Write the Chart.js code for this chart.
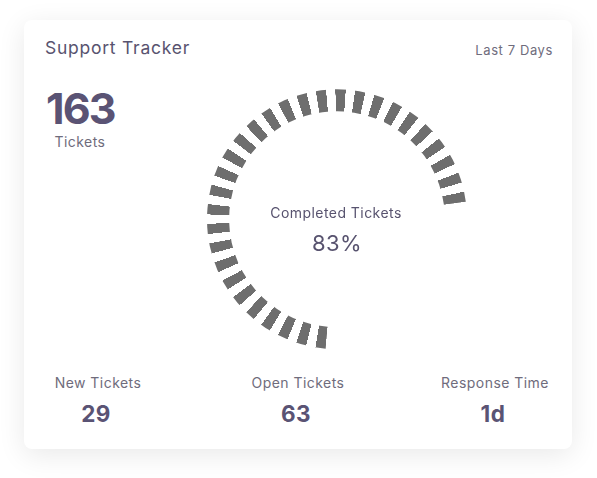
<!DOCTYPE html>
<html>
<head>
<meta charset="utf-8">
<script src="https://cdn.jsdelivr.net/npm/chart.js@4/dist/chart.umd.min.js"></script>
<style>
  html, body { margin: 0; padding: 0; background: #ffffff; }
  body { width: 597px; height: 478px; position: relative; overflow: hidden; font-family: Inter, "Open Sans", sans-serif; }
  .card { position: absolute; left: 24px; top: 20px; width: 548px; height: 429px; background: #fff; border-radius: 8px;
          box-shadow: 0 6px 28px rgba(0,0,0,0.09); }
  .t { position: absolute; white-space: nowrap; letter-spacing: 0.45px; }
  #chartWrap { position: absolute; left: 207px; top: 89px; width: 260px; height: 260px; }
  #c { display: block; width: 260px; height: 260px; }
</style>
</head>
<body>
<div class="card"></div>
<div class="t" id="title" style="left:45px; top:38px; font-size:17.5px; line-height:20px; color:#58536f; letter-spacing:0.75px;"></div>
<div class="t" id="period" style="right:44px; top:42px; font-size:13px; line-height:16px; color:#6f6c7c; letter-spacing:0.6px;"></div>
<div class="t" id="total" style="left:46px; top:85px; font-size:43px; line-height:46px; font-weight:700; color:#5a5374; letter-spacing:-1.8px;"></div>
<div class="t" id="totalLbl" style="left:40px; width:80px; text-align:center; top:133px; font-size:14px; line-height:18px; color:#6f6c7c;"></div>
<div id="chartWrap"><canvas id="c" width="260" height="260"></canvas></div>
<div class="t" id="centerLbl" style="left:236px; width:200px; text-align:center; top:204px; font-size:14px; line-height:18px; color:#58536f;"></div>
<div class="t" id="centerVal" style="left:237px; width:200px; text-align:center; top:230px; font-size:22px; line-height:26px; color:#58536f;"></div>
<div id="stats"></div>
<script>
// ---- data ----
const titleText = 'Support Tracker';
const periodText = 'Last 7 Days';
const totalTickets = 163;
const totalLabel = 'Tickets';
const gaugeLabel = 'Completed Tickets';
const gaugeCategories = ['Completed', 'Remaining'];
const gaugeValues = [83, 17];
const statLabels = ['New Tickets', 'Open Tickets', 'Response Time'];
const statValues = ['29', '63', '1d'];

// ---- text ----
document.getElementById('title').textContent = titleText;
document.getElementById('period').textContent = periodText;
document.getElementById('total').textContent = String(totalTickets);
document.getElementById('totalLbl').textContent = totalLabel;
document.getElementById('centerLbl').textContent = gaugeLabel;
document.getElementById('centerVal').textContent = gaugeValues[0] + '%';

const statCenters = [98, 298, 495];
const statsEl = document.getElementById('stats');
statLabels.forEach((lbl, i) => {
  const a = document.createElement('div');
  a.className = 't';
  a.style.cssText = `left:${statCenters[i]-80}px;width:160px;text-align:center;top:374px;font-size:14px;line-height:18px;color:#6f6c7c;letter-spacing:0.45px;`;
  a.textContent = lbl;
  statsEl.appendChild(a);
  const b = document.createElement('div');
  b.className = 't';
  b.style.cssText = `left:${statCenters[i]-80-2}px;width:160px;text-align:center;top:400px;font-size:22.5px;line-height:28px;font-weight:700;color:#5a5374;`;
  b.textContent = statValues[i];
  statsEl.appendChild(b);
});

// ---- dashed arc fill via conic gradient ----
const DASH_COLOR = '#6e6e6e';
const DASH_COUNT = 30;
const DASH_FRAC = 0.52;
const dashPlugin = {
  id: 'dashFill',
  beforeDatasetsDraw(chart) {
    const meta = chart.getDatasetMeta(0);
    const arc = meta.data[0];
    if (!arc || arc.x === undefined) return;
    const ctx = chart.ctx;
    const span = arc.endAngle - arc.startAngle;
    const p = span / (DASH_COUNT - 1 + DASH_FRAC);
    const g = ctx.createConicGradient(arc.startAngle, arc.x, arc.y);
    const TAU = Math.PI * 2;
    const eps = 0.00005;
    g.addColorStop(0, DASH_COLOR);
    for (let i = 0; i < DASH_COUNT; i++) {
      const a0 = (i * p) / TAU;
      const a1 = (i * p + DASH_FRAC * p) / TAU;
      if (i > 0) { g.addColorStop(Math.max(a0 - eps, 0), 'rgba(0,0,0,0)'); g.addColorStop(a0, DASH_COLOR); }
      g.addColorStop(a1, DASH_COLOR);
      g.addColorStop(Math.min(a1 + eps, 1), 'rgba(0,0,0,0)');
    }
    g.addColorStop(1, 'rgba(0,0,0,0)');
    arc.options.backgroundColor = g;
  }
};

new Chart(document.getElementById('c'), {
  type: 'doughnut',
  data: {
    labels: gaugeCategories,
    datasets: [{
      data: gaugeValues,
      backgroundColor: [DASH_COLOR, 'rgba(0,0,0,0)'],
      borderWidth: 0,
      hoverOffset: 0
    }]
  },
  options: {
    responsive: false,
    maintainAspectRatio: false,
    animation: false,
    rotation: 185,
    circumference: 310,
    cutout: '83%',
    layout: { padding: 0 },
    plugins: { legend: { display: false }, tooltip: { enabled: false } },
    events: []
  },
  plugins: [dashPlugin]
});
</script>
</body>
</html>
